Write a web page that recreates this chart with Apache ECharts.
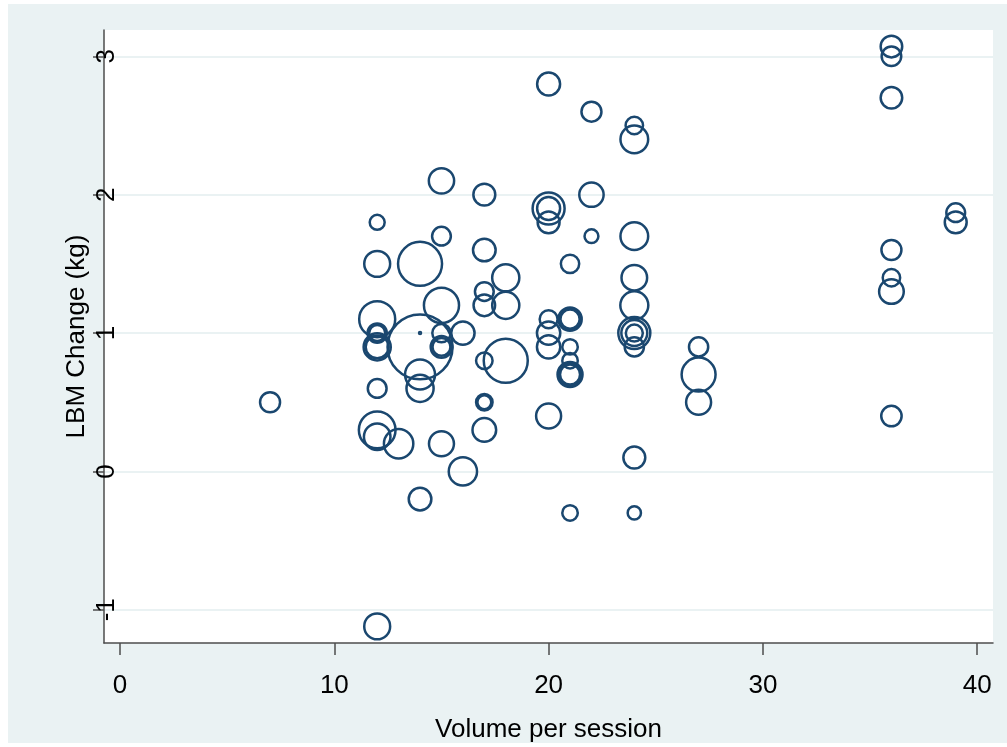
<!DOCTYPE html>
<html>
<head>
<meta charset="utf-8">
<title>LBM change by volume per session</title>
<script src="https://cdn.jsdelivr.net/npm/echarts@6/dist/echarts.min.js"></script>
<style>
  html, body { margin: 0; padding: 0; background: #ffffff; }
  #chart { position: absolute; left: 8px; top: 4px; width: 999px; height: 739px; }
</style>
</head>
<body>
<div id="chart"></div>
<script>
  // volume per session (x), LBM change in kg (y), study weight (bubble area)
  var volume = [
    7,
    12, 12, 12, 12, 12, 12, 12, 12, 12, 12, 12,
    13,
    14, 14, 14, 14, 14, 14,
    15, 15, 15, 15, 15, 15, 15,
    16, 16,
    17, 17, 17, 17, 17, 17, 17, 17,
    18, 18, 18,
    20, 20, 20, 20, 20, 20, 20, 20,
    21, 21, 21, 21, 21, 21, 21, 21, 21, 21,
    22, 22, 22,
    24, 24, 24, 24, 24, 24, 24, 24, 24, 24, 24,
    27, 27, 27,
    36, 36, 36, 36, 36, 36, 36,
    39, 39
  ];
  var lbmChange = [
    0.5,
    1.8, 1.5, 1.1, 1.0, 1.0, 0.9, 0.9, 0.6, 0.3, 0.25, -1.12,
    0.2,
    1.5, 0.9, 1.0, 0.7, 0.6, -0.2,
    2.1, 1.7, 1.2, 1.0, 0.9, 0.9, 0.2,
    1.0, 0.0,
    2.0, 1.6, 1.3, 1.2, 0.8, 0.5, 0.5, 0.3,
    1.4, 1.2, 0.8,
    2.8, 1.9, 1.9, 1.8, 1.1, 1.0, 0.9, 0.4,
    1.5, 1.1, 1.1, 1.1, 0.9, 0.8, 0.7, 0.7, 0.7, -0.3,
    2.6, 2.0, 1.7,
    2.5, 2.4, 1.7, 1.4, 1.2, 1.0, 1.0, 1.0, 0.9, 0.1, -0.3,
    0.9, 0.7, 0.5,
    3.07, 3.0, 2.7, 1.6, 1.4, 1.3, 0.4,
    1.87, 1.8
  ];
  var weight = [
    25,
    14, 42, 81, 23, 16, 46, 33, 22, 84, 44, 42,
    54,
    121, 264, 0.25, 56, 46, 32,
    40, 22, 77, 21, 29, 20, 39,
    34, 50,
    30, 32, 22, 29, 17, 17, 12, 35,
    46, 46, 121,
    33, 64, 33, 30, 20, 34, 34, 39,
    21, 34, 28, 23, 15, 15, 39, 30, 25, 15,
    25, 37, 12,
    19, 48, 48, 41, 49, 64, 42, 18, 23, 30, 11,
    23, 72, 39,
    29, 24, 29, 25, 19, 38, 26,
    22, 30
  ];
  var xTicks = [0, 10, 20, 30, 40];
  var yTicks = [-1, 0, 1, 2, 3];

  var points = [];
  for (var i = 0; i < volume.length; i++) {
    points.push([volume[i], lbmChange[i], weight[i]]);
  }

  var axisColor = '#4d4d4d';
  var gridColor = '#eaf2f3';
  var font = 'Liberation Sans, Arial, Helvetica, sans-serif';

  var chart = echarts.init(document.getElementById('chart'));
  var option = {
    backgroundColor: '#eaf2f3',
    animation: false,
    grid: {
      show: true,
      backgroundColor: '#ffffff',
      borderWidth: 0,
      outerBoundsMode: 'none',
      left: 96,
      top: 26,
      right: 14,
      bottom: 100
    },
    xAxis: {
      type: 'value',
      min: -0.75,
      max: 40.74,
      name: 'Volume per session',
      nameLocation: 'middle',
      nameGap: 74,
      nameMoveOverlap: false,
      nameTextStyle: { color: '#000', fontSize: 26, fontFamily: font },
      axisLine: { onZero: false, lineStyle: { color: axisColor, width: 1.5 } },
      axisTick: { show: true, length: 12, customValues: xTicks, lineStyle: { color: axisColor, width: 1.5 } },
      axisLabel: { customValues: xTicks, color: '#000', fontSize: 26, fontFamily: font, margin: 30 },
      splitLine: { show: false }
    },
    yAxis: {
      type: 'value',
      min: -1.24,
      max: 3.19,
      name: 'LBM Change (kg)',
      nameLocation: 'middle',
      nameGap: 14,
      nameMoveOverlap: false,
      nameTextStyle: { color: '#000', fontSize: 26, fontFamily: font },
      axisLine: { show: true, onZero: false, lineStyle: { color: axisColor, width: 1.5 } },
      axisTick: { show: true, length: 11, customValues: yTicks, lineStyle: { color: axisColor, width: 1.5 } },
      axisLabel: { customValues: yTicks, rotate: 90, color: '#000', fontSize: 26, fontFamily: font, margin: -16 },
      splitLine: { show: true, lineStyle: { color: gridColor, width: 2 } }
    },
    series: [{
      type: 'scatter',
      data: points,
      symbol: 'circle',
      symbolSize: function (d) { return 4 * Math.sqrt(d[2]); },
      itemStyle: { color: 'rgba(0,0,0,0)', borderColor: '#1a476f', borderWidth: 2.5, opacity: 1 },
      emphasis: { disabled: true }
    }]
  };
  chart.setOption(option);
</script>
</body>
</html>
